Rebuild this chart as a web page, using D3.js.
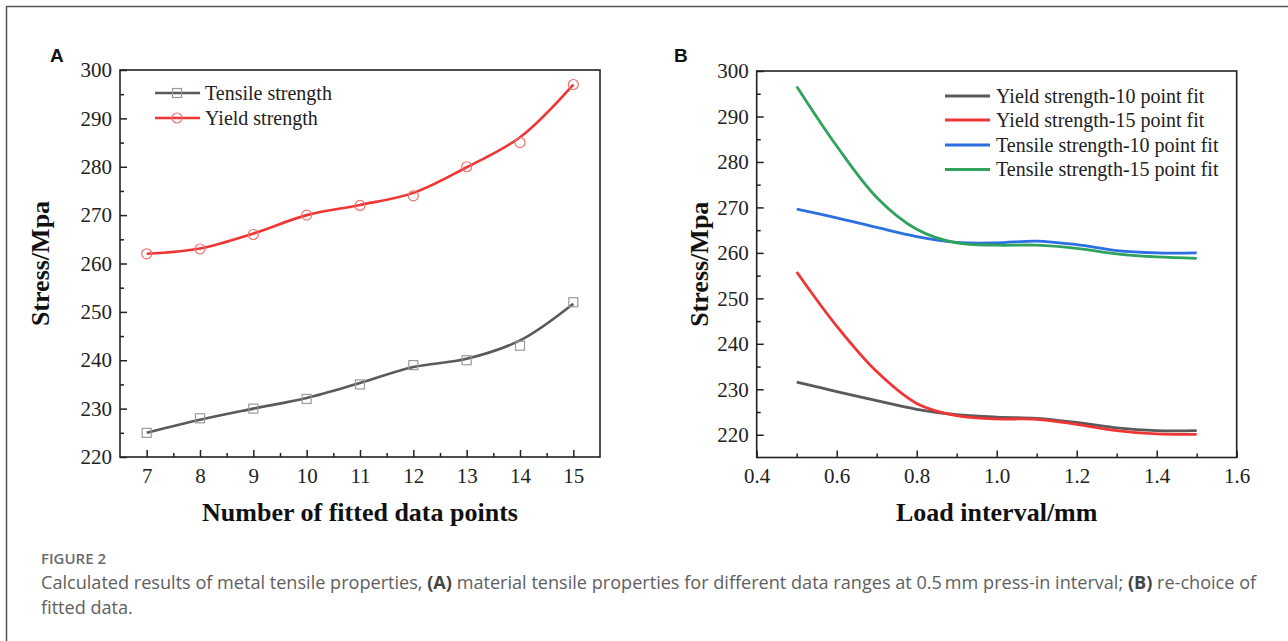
<!DOCTYPE html>
<html>
<head>
<meta charset="utf-8">
<script src="https://cdn.jsdelivr.net/npm/d3@7"></script>
<style>
  html, body { margin: 0; padding: 0; background: #fff; }
  svg { display: block; }
  .domain { stroke: none; }
</style>
</head>
<body>
<svg id="chart" width="1288" height="641"></svg>
<script>
// ---------- Data: panel A ----------
const fittedPoints = [7, 8, 9, 10, 11, 12, 13, 14, 15];
const tensileMarkers = [225, 228, 230, 232, 235, 239, 240, 243, 252];
const yieldMarkers   = [262, 263, 266, 270, 272, 274, 280, 285, 297];
const tensileCurve   = [225, 227.7, 230, 232.2, 235.3, 238.6, 240.3, 244.1, 251.7];
const yieldCurve     = [262, 263.1, 266.2, 270, 272.1, 274.6, 279.9, 286.1, 297];
const yTicksA = [220, 230, 240, 250, 260, 270, 280, 290, 300];
const xTicksA = [7, 8, 9, 10, 11, 12, 13, 14, 15];

// ---------- Data: panel B ----------
const loadInterval = [0.5, 0.6, 0.7, 0.8, 0.9, 1.0, 1.1, 1.2, 1.3, 1.4, 1.5];
const yield10   = [231.6, 229.5, 227.5, 225.6, 224.4, 223.9, 223.6, 222.7, 221.5, 220.9, 220.9];
const yield15   = [255.8, 243.9, 233.9, 226.9, 224.2, 223.5, 223.4, 222.3, 220.9, 220.2, 220.1];
const tensile10 = [269.6, 267.7, 265.6, 263.6, 262.3, 262.2, 262.6, 261.8, 260.5, 260.0, 260.0];
const tensile15 = [296.6, 283.5, 272.2, 265.2, 262.2, 261.7, 261.7, 261.0, 259.8, 259.1, 258.8];
const yTicksB = [220, 230, 240, 250, 260, 270, 280, 290, 300];
const xTicksB = [0.4, 0.6, 0.8, 1.0, 1.2, 1.4, 1.6];
const seriesNamesB = ["Yield strength-10 point fit", "Yield strength-15 point fit",
                      "Tensile strength-10 point fit", "Tensile strength-15 point fit"];
const seriesColorsB = ["#5a5a5a", "#f03535", "#2b6fe0", "#2fa25c"];

const svg = d3.select("#chart");
const serif = '"Liberation Serif", "Times New Roman", serif';

// outer frame
svg.append("path").attr("d", "M6.5,641 V6.5 H1288")
  .attr("fill", "none").attr("stroke", "#555").attr("stroke-width", 1.5);

function styleAxis(sel) {
  sel.attr("font-family", serif).attr("font-size", 21);
  sel.selectAll(".tick text").attr("fill", "#222").attr("font-family", serif).attr("font-size", 21);
  sel.selectAll(".tick line").attr("stroke", "#222").attr("stroke-width", 1.5);
}

function drawFrame(x, y, xMajor, xMinor, yMajor, yMinor, xFmt, xTitle, yTitleX, letter, letterX) {
  const [x0, x1] = x.range();
  const [y0, y1] = y.range(); // y0 bottom, y1 top
  const g = svg.append("g");
  // minor ticks
  g.append("g").attr("transform", `translate(0,${y0})`)
    .call(d3.axisBottom(x).tickValues(xMinor).tickSize(-4).tickFormat("")).call(styleAxis);
  g.append("g").attr("transform", `translate(${x0},0)`)
    .call(d3.axisLeft(y).tickValues(yMinor).tickSize(-4).tickFormat("")).call(styleAxis);
  // major ticks
  g.append("g").attr("transform", `translate(0,${y0})`)
    .call(d3.axisBottom(x).tickValues(xMajor).tickSize(-7).tickPadding(11).tickFormat(xFmt)).call(styleAxis);
  g.append("g").attr("transform", `translate(${x0},0)`)
    .call(d3.axisLeft(y).tickValues(yMajor).tickSize(-7).tickPadding(8).tickFormat(d3.format("d"))).call(styleAxis);
  // box
  g.append("rect").attr("x", x0).attr("y", y1).attr("width", x1 - x0).attr("height", y0 - y1)
    .attr("fill", "none").attr("stroke", "#222").attr("stroke-width", 1.6);
  // axis titles
  svg.append("text").attr("x", (x0 + x1) / 2).attr("y", 521)
    .attr("text-anchor", "middle").attr("font-family", serif).attr("font-weight", "bold")
    .attr("font-size", 26).attr("fill", "#111").text(xTitle);
  svg.append("text").attr("transform", `translate(${yTitleX},${(y0 + y1) / 2}) rotate(-90)`)
    .attr("text-anchor", "middle").attr("dy", "0.35em").attr("font-family", serif).attr("font-weight", "bold")
    .attr("font-size", 26).attr("fill", "#111").text("Stress/Mpa");
  svg.append("text").attr("x", letterX).attr("y", 62)
    .attr("font-family", '"Liberation Sans", Arial, sans-serif').attr("font-weight", "bold")
    .attr("font-size", 19).attr("fill", "#111").text(letter);
}

// ---------- Panel A ----------
const xA = d3.scaleLinear().domain([6.5, 15.5]).range([120, 600]);
const yA = d3.scaleLinear().domain([220, 300]).range([457, 70]);
drawFrame(xA, yA, xTicksA, d3.range(7.5, 15.5, 1), yTicksA, d3.range(225, 300, 10),
  d3.format("d"), "Number of fitted data points", 40, "A", 50);

const lineA = d3.line().x((d, i) => xA(fittedPoints[i])).y(d => yA(d)).curve(d3.curveCatmullRom.alpha(0.5));
svg.append("path").attr("d", lineA(tensileCurve)).attr("fill", "none")
  .attr("stroke", "#5a5a5a").attr("stroke-width", 2.6);
svg.append("path").attr("d", lineA(yieldCurve)).attr("fill", "none")
  .attr("stroke", "#f03535").attr("stroke-width", 2.6);
svg.selectAll(".sqA").data(tensileMarkers).enter().append("rect")
  .attr("x", (d, i) => xA(fittedPoints[i]) - 4.5).attr("y", d => yA(d) - 4.5)
  .attr("width", 9).attr("height", 9).attr("fill", "none").attr("stroke", "#9a9a9a").attr("stroke-width", 1.2);
svg.selectAll(".ciA").data(yieldMarkers).enter().append("circle")
  .attr("cx", (d, i) => xA(fittedPoints[i])).attr("cy", d => yA(d)).attr("r", 5)
  .attr("fill", "none").attr("stroke", "#f27070").attr("stroke-width", 1.2);

// legend A
const legA = [
  { name: "Tensile strength", color: "#5a5a5a", marker: "square", y: 93 },
  { name: "Yield strength", color: "#f03535", marker: "circle", y: 118 }
];
legA.forEach(l => {
  svg.append("line").attr("x1", 155).attr("x2", 200).attr("y1", l.y).attr("y2", l.y)
    .attr("stroke", l.color).attr("stroke-width", 2.6);
  if (l.marker === "square") {
    svg.append("rect").attr("x", 177 - 4.5).attr("y", l.y - 4.5).attr("width", 9).attr("height", 9)
      .attr("fill", "none").attr("stroke", "#9a9a9a").attr("stroke-width", 1.2);
  } else {
    svg.append("circle").attr("cx", 177).attr("cy", l.y).attr("r", 5)
      .attr("fill", "none").attr("stroke", "#f27070").attr("stroke-width", 1.2);
  }
  svg.append("text").attr("x", 205).attr("y", l.y).attr("dy", "0.33em")
    .attr("font-family", serif).attr("font-size", 20).attr("fill", "#222").text(l.name);
});

// ---------- Panel B ----------
const xB = d3.scaleLinear().domain([0.4, 1.6]).range([756.7, 1236.7]);
const yB = d3.scaleLinear().domain([215, 300]).range([457.5, 71]);
drawFrame(xB, yB, xTicksB, d3.range(0.5, 1.6, 0.2), yTicksB, d3.range(225, 300, 10),
  d3.format(".1f"), "Load interval/mm", 699, "B", 674);

const lineB = d3.line().x((d, i) => xB(loadInterval[i])).y(d => yB(d)).curve(d3.curveCatmullRom.alpha(0.5));
[yield10, yield15, tensile10, tensile15].forEach((s, k) => {
  svg.append("path").attr("d", lineB(s)).attr("fill", "none")
    .attr("stroke", seriesColorsB[k]).attr("stroke-width", 2.8);
});
const legYB = [96, 120, 145, 169.5];
seriesNamesB.forEach((n, k) => {
  svg.append("line").attr("x1", 945).attr("x2", 990).attr("y1", legYB[k]).attr("y2", legYB[k])
    .attr("stroke", seriesColorsB[k]).attr("stroke-width", 2.8);
  svg.append("text").attr("x", 996).attr("y", legYB[k]).attr("dy", "0.33em")
    .attr("font-family", serif).attr("font-size", 20).attr("fill", "#222").text(n);
});

// ---------- Caption ----------
const sans = '"Open Sans", "Noto Sans", sans-serif';
svg.append("text").attr("x", 41).attr("y", 564).attr("font-family", sans)
  .attr("font-weight", 600).attr("font-size", 15).attr("fill", "#6a6a6a").text("FIGURE 2");
const cap1 = svg.append("text").attr("x", 41).attr("y", 589).attr("font-family", sans)
  .attr("font-size", 18.1).attr("fill", "#606060");
cap1.append("tspan").text("Calculated results of metal tensile properties, ");
cap1.append("tspan").attr("font-weight", "bold").attr("fill", "#444").text("(A)");
cap1.append("tspan").text(" material tensile properties for different data ranges at 0.5\u2009mm press-in interval; ");
cap1.append("tspan").attr("font-weight", "bold").attr("fill", "#444").text("(B)");
cap1.append("tspan").text(" re-choice of");
svg.append("text").attr("x", 41).attr("y", 614).attr("font-family", sans)
  .attr("font-size", 18.1).attr("fill", "#606060").text("fitted data.");
</script>
</body>
</html>
